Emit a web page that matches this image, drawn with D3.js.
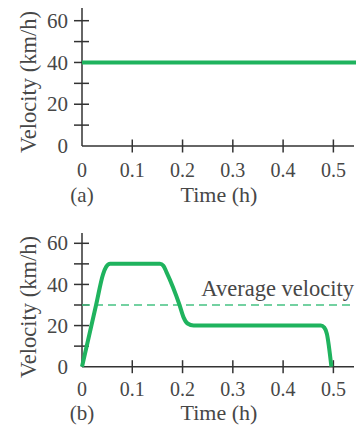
<!DOCTYPE html>
<html>
<head>
<meta charset="utf-8">
<script src="https://cdn.jsdelivr.net/npm/d3@7"></script>
<style>
  body { margin: 0; background: #fff; }
  text { font-family: "Liberation Serif", "DejaVu Serif", serif; fill: #474747; }
</style>
</head>
<body>
<div id="chart"></div>
<script>
// data
const xTicks = [0, 0.1, 0.2, 0.3, 0.4, 0.5];
const yTicks = [0, 10, 20, 30, 40, 50, 60];
const yLabels = [0, 20, 40, 60];
const panelTags = ["(a)", "(b)"];

// (a) constant velocity
const timeA = [0, 0.545];
const velA = [40, 40];

// (b) varying velocity
const timeB = [0, 0.028, 0.042, 0.048, 0.056, 0.155, 0.162, 0.168, 0.194, 0.202, 0.21, 0.222, 0.475, 0.482, 0.487, 0.496];
const velB  = [0, 30, 45, 48.5, 50, 50, 49, 46, 30, 24, 21, 20, 20, 19, 16, 0];
const avgVel = 30;

const W = 358, H = 425;
const green = "#1fb35e", dashGreen = "#45c282", axisCol = "#333";

const svg = d3.select("#chart").append("svg")
    .attr("width", W)
    .attr("height", H);

const x = d3.scaleLinear().domain([0, 0.541]).range([82, 354]);

function panel(g, yTop, y0, y60, tag, labelOffset, tickGap, titleGap) {
  const y = d3.scaleLinear().domain([0, 60]).range([y0, y60]);

  // y axis line + ticks (ticks cross the axis)
  g.append("line")
    .attr("x1", x(0)).attr("x2", x(0))
    .attr("y1", yTop).attr("y2", y0)
    .attr("stroke", axisCol).attr("stroke-width", 1.5);
  g.selectAll(".ytick").data(yTicks.filter(d => d > 0)).join("line")
    .attr("x1", x(0) - 8).attr("x2", x(0) + 7)
    .attr("y1", d => y(d)).attr("y2", d => y(d))
    .attr("stroke", axisCol).attr("stroke-width", 1.5);
  g.selectAll(".ylab").data(yLabels).join("text")
    .attr("x", x(0) - 14)
    .attr("y", d => y(d))
    .attr("dy", "0.34em")
    .attr("text-anchor", "end")
    .style("font-size", "21px")
    .text(d => d);

  // x axis line + ticks
  g.append("line")
    .attr("x1", x(0)).attr("x2", x.range()[1])
    .attr("y1", y0).attr("y2", y0)
    .attr("stroke", axisCol).attr("stroke-width", 1.5);
  g.selectAll(".xtick").data(xTicks.filter(d => d > 0)).join("line")
    .attr("x1", d => x(d)).attr("x2", d => x(d))
    .attr("y1", y0 - 6.5).attr("y2", y0 + 6.5)
    .attr("stroke", axisCol).attr("stroke-width", 1.5);
  g.selectAll(".xlab").data(xTicks).join("text")
    .attr("x", d => x(d))
    .attr("y", y0 + tickGap)
    .attr("text-anchor", "middle")
    .style("font-size", "20px")
    .text(d => d);

  g.append("text")
    .attr("x", x(0)).attr("y", y0 + titleGap)
    .attr("text-anchor", "middle")
    .style("font-size", "21px")
    .text(tag);
  g.append("text")
    .attr("x", 219).attr("y", y0 + titleGap)
    .attr("text-anchor", "middle")
    .style("font-size", "22px")
    .text("Time (h)");

  g.append("text")
    .attr("transform", `translate(36,${labelOffset}) rotate(-90)`)
    .attr("text-anchor", "middle")
    .style("font-size", "22.5px")
    .text("Velocity (km/h)");

  return y;
}

// panel (a)
const gA = svg.append("g");
const yA = panel(gA, 8, 146, 20.7, panelTags[0], 82, 31, 56);
gA.append("path")
  .datum(timeA.map((t, i) => [t, velA[i]]))
  .attr("fill", "none")
  .attr("stroke", green)
  .attr("stroke-width", 4)
  .attr("d", d3.line().x(d => x(d[0])).y(d => yA(d[1])));

// panel (b)
const gB = svg.append("g");
const yB = panel(gB, 233, 366.7, 243.3, panelTags[1], 307, 29.5, 53.3);

gB.append("line")
  .attr("x1", x(0)).attr("x2", x.range()[1])
  .attr("y1", yB(avgVel)).attr("y2", yB(avgVel))
  .attr("stroke", dashGreen)
  .attr("stroke-width", 1.6)
  .attr("stroke-dasharray", "8,5");

gB.append("text")
  .attr("x", 354).attr("y", yB(avgVel) - 9)
  .attr("text-anchor", "end")
  .style("font-size", "22.5px")
  .text("Average velocity");

gB.append("path")
  .datum(timeB.map((t, i) => [t, velB[i]]))
  .attr("fill", "none")
  .attr("stroke", green)
  .attr("stroke-width", 4)
  .attr("stroke-linejoin", "round")
  .attr("d", d3.line().curve(d3.curveMonotoneX).x(d => x(d[0])).y(d => yB(d[1])));
</script>
</body>
</html>
